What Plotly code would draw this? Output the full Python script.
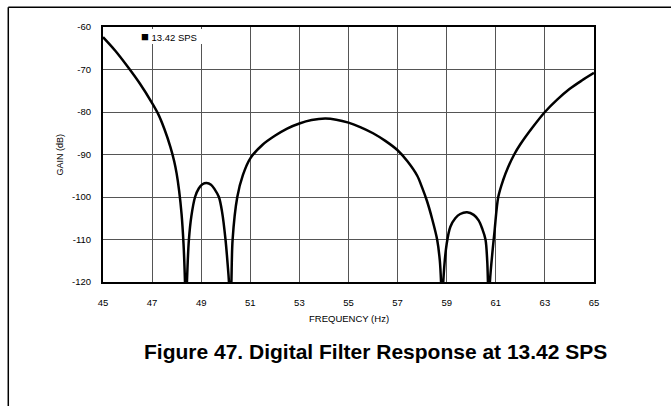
import plotly.graph_objects as go

# ---- data ----
freq_hz = [
    45.0, 45.5, 46.0, 46.5, 47.0, 47.25, 47.5, 47.75, 47.9, 48.0, 48.1, 48.2,
    48.28, 48.34, 48.38,
    48.42, 48.5, 48.6, 48.75, 48.9, 49.05, 49.22, 49.4, 49.55, 49.72, 49.85,
    49.99, 50.08, 50.13, 50.18,
    50.23, 50.28, 50.47, 50.7, 51.0, 51.5, 52.0, 52.5, 53.0, 53.5, 54.05, 54.5,
    55.0, 55.5, 56.0, 56.5, 57.0, 57.4, 57.8, 58.0, 58.2, 58.4, 58.61,
    58.72, 58.77, 58.82,
    58.86, 59.0, 59.15, 59.35, 59.55, 59.83, 60.1, 60.3, 60.45, 60.58, 60.65,
    60.68, 60.72,
    60.76, 60.95, 61.1, 61.3, 61.5, 61.75, 62.0, 62.5, 63.0, 63.5, 64.0,
    64.5, 65.0,
]
gain_db = [
    -62.4, -65.6, -69.3, -73.3, -77.9, -80.5, -84.0, -88.3, -91.6, -94.5, -98.5, -104.0,
    -111.0, -120.0, -130.0,
    -120.0, -110.0, -104.5, -100.0, -98.0, -97.0, -96.7, -97.1, -98.2, -100.0, -103.5,
    -110.0, -116.0, -120.0, -130.0,
    -120.0, -110.0, -100.0, -94.8, -90.9, -87.7, -85.6, -83.9, -82.7, -81.9, -81.55, -81.8,
    -82.5, -83.6, -85.0, -86.8, -89.0, -91.6, -95.0, -97.8, -101.0, -105.0, -110.0,
    -115.0, -120.0, -130.0,
    -120.0, -111.0, -107.0, -105.0, -104.0, -103.6, -104.2, -105.5, -107.5, -110.0, -115.0,
    -120.0, -130.0,
    -120.0, -108.0, -100.0, -96.0, -93.0, -90.0, -87.6, -83.6, -80.0, -77.1, -74.6,
    -72.6, -70.8,
]

x_ticks = [45, 47, 49, 51, 53, 55, 57, 59, 61, 63, 65]
y_ticks = [-120, -110, -100, -90, -80, -70, -60]
y_tick_labels = ["-120", "-110", "-100", "-90", "-80", "-70", "-60"]
series_name = "13.42 SPS"
x_title = "FREQUENCY (Hz)"
y_title = "GAIN (dB)"
caption = "Figure 47. Digital Filter Response at 13.42 SPS"

FONT = "Liberation Sans, Arial, sans-serif"

fig = go.Figure()
fig.add_trace(go.Scatter(
    x=freq_hz, y=gain_db, mode="lines", name=series_name,
    line=dict(color="black", width=2.5, shape="spline", smoothing=0.9),
    showlegend=False, hoverinfo="skip",
))

axis_common = dict(
    showline=True, linecolor="black", linewidth=2, mirror=True,
    showgrid=True, gridcolor="#555555", gridwidth=1,
    zeroline=False, ticks="", tickfont=dict(family=FONT, size=9.5, color="black"),
)

fig.update_layout(
    width=671, height=406,
    margin=dict(l=103, r=77, t=27, b=124, pad=0),
    paper_bgcolor="white", plot_bgcolor="white",
    showlegend=False,
    font=dict(family=FONT, color="black"),
    xaxis=dict(range=[45, 65], tickvals=x_ticks, ticklabelstandoff=11, **axis_common),
    yaxis=dict(range=[-120, -60], tickvals=y_ticks, ticktext=y_tick_labels,
               ticklabelstandoff=8, **axis_common),
)

# page frame lines
fig.add_shape(type="line", xref="paper", yref="paper",
              x0=-0.1929, x1=1.2, y0=1.0773, y1=1.0773,
              line=dict(color="black", width=1.5))
fig.add_shape(type="line", xref="paper", yref="paper",
              x0=-0.1929, x1=-0.1929, y0=1.0773, y1=-0.5,
              line=dict(color="black", width=1.5))

# legend-like label
fig.add_annotation(
    xref="paper", yref="paper", x=0.0754, y=0.9941, xanchor="left", yanchor="top",
    text="<span style='font-size:13px'>■</span> " + series_name,
    showarrow=False, align="left", valign="middle",
    width=62, height=13, borderpad=1, borderwidth=0, bgcolor="white",
    font=dict(family=FONT, size=9.5, color="black"),
)

# axis titles
fig.add_annotation(
    xref="paper", yref="paper", x=0.5, y=-0.1424, xanchor="center", yanchor="middle",
    text=x_title, showarrow=False, font=dict(family=FONT, size=9.5, color="black"),
)
fig.add_annotation(
    xref="paper", yref="paper", x=-0.0896, y=0.5, xanchor="center", yanchor="middle",
    text=y_title, textangle=-90, showarrow=False,
    font=dict(family=FONT, size=9, color="black"),
)

# caption
fig.add_annotation(
    xref="paper", yref="paper", x=0.555, y=-0.2718, xanchor="center", yanchor="middle",
    text="<b>" + caption + "</b>", showarrow=False,
    font=dict(family=FONT, size=21, color="black"),
)

fig.write_html("out.html", config={"displayModeBar": False},
               post_script="document.body.style.margin='0';")
